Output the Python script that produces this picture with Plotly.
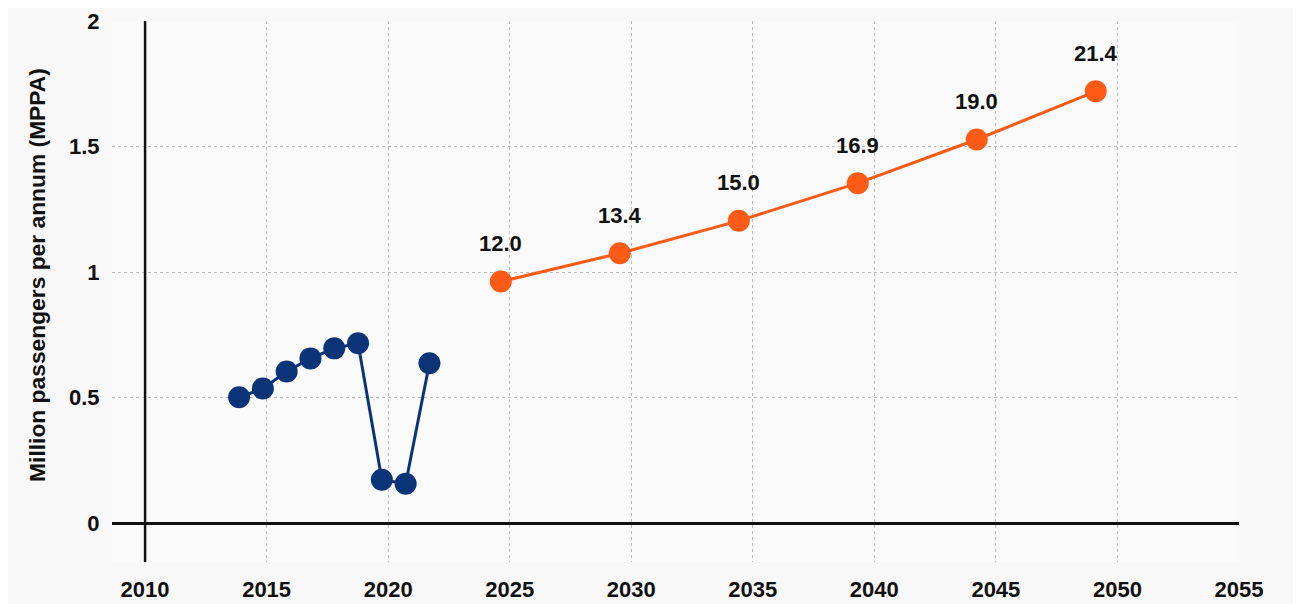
import plotly.graph_objects as go

# ---- data ----
hist_years = [2014, 2015, 2016, 2017, 2018, 2019, 2020, 2021, 2022]
hist_mppa = [0.501, 0.536, 0.604, 0.656, 0.696, 0.716, 0.173, 0.157, 0.637]

fc_years = [2025, 2030, 2035, 2040, 2045, 2050]
fc_mppa = [0.962, 1.075, 1.204, 1.354, 1.528, 1.720]
fc_labels = ["12.0", "13.4", "15.0", "16.9", "19.0", "21.4"]

tick_labels = ["2010", "2015", "2020", "2025", "2030", "2035", "2040", "2045", "2050", "2055"]
y_ticks = [0, 0.5, 1, 1.5, 2]
y_tick_labels = ["0", "0.5", "1", "1.5", "2"]

# ---- style ----
BLUE = "#0b3377"
ORANGE = "#ff5a16"
FONT = "Liberation Sans, Arial, sans-serif"

# category-style tick placement used by the original chart
tick_pos = [2010.05 + i * 5.1075 for i in range(len(tick_labels))]

fig = go.Figure()
fig.add_trace(go.Scatter(
    x=hist_years, y=hist_mppa, mode="lines+markers",
    line=dict(color=BLUE, width=3),
    marker=dict(color=BLUE, size=22),
    showlegend=False, cliponaxis=False,
))
fig.add_trace(go.Scatter(
    x=fc_years, y=fc_mppa, mode="lines+markers",
    line=dict(color=ORANGE, width=3),
    marker=dict(color=ORANGE, size=22),
    showlegend=False, cliponaxis=False,
))

for xv, yv, lab in zip(fc_years, fc_mppa, fc_labels):
    fig.add_annotation(x=xv, y=yv, text="<b>%s</b>" % lab, showarrow=False,
                       yshift=38, font=dict(family=FONT, size=22, color="#111111"))

# vertical axis line at 2010
fig.add_shape(type="line", xref="x", yref="paper", x0=tick_pos[0], x1=tick_pos[0],
              y0=0, y1=1, line=dict(color="#111111", width=2.5))

fig.add_annotation(xref="paper", yref="paper", x=-0.066, y=0.53,
                   text="<b>Million passengers per annum (MPPA)</b>", textangle=-90,
                   showarrow=False, xanchor="center", yanchor="middle",
                   font=dict(family=FONT, size=22.8, color="#111111"))

fig.update_layout(
    width=1301, height=604,
    margin=dict(l=104, r=70, t=13, b=50),
    paper_bgcolor="#f8f8f8", plot_bgcolor="#fafafa",
    font=dict(family=FONT, size=22, color="#111111"),
    xaxis=dict(range=[2008.66, 2056.02], tickvals=tick_pos,
               ticktext=["<b>%s</b>" % t for t in tick_labels],
               showgrid=True, gridcolor="#bdbdbd", griddash="dot", gridwidth=1,
               zeroline=False, showline=False, automargin=False,
               ticklabeloverflow="allow",
               ticks="outside", ticklen=8, tickcolor="rgba(0,0,0,0)"),
    yaxis=dict(range=[-0.155, 2.0], tickvals=y_ticks,
               ticktext=["<b>%s</b>" % t for t in y_tick_labels],
               showgrid=True, gridcolor="#bdbdbd", griddash="dot", gridwidth=1,
               zeroline=True, zerolinecolor="#111111", zerolinewidth=2.5,
               showline=False, automargin=False,
               ticklabeloverflow="allow",
               ticks="outside", ticklen=7, tickcolor="rgba(0,0,0,0)"),
)

fig.write_html("out.html")
